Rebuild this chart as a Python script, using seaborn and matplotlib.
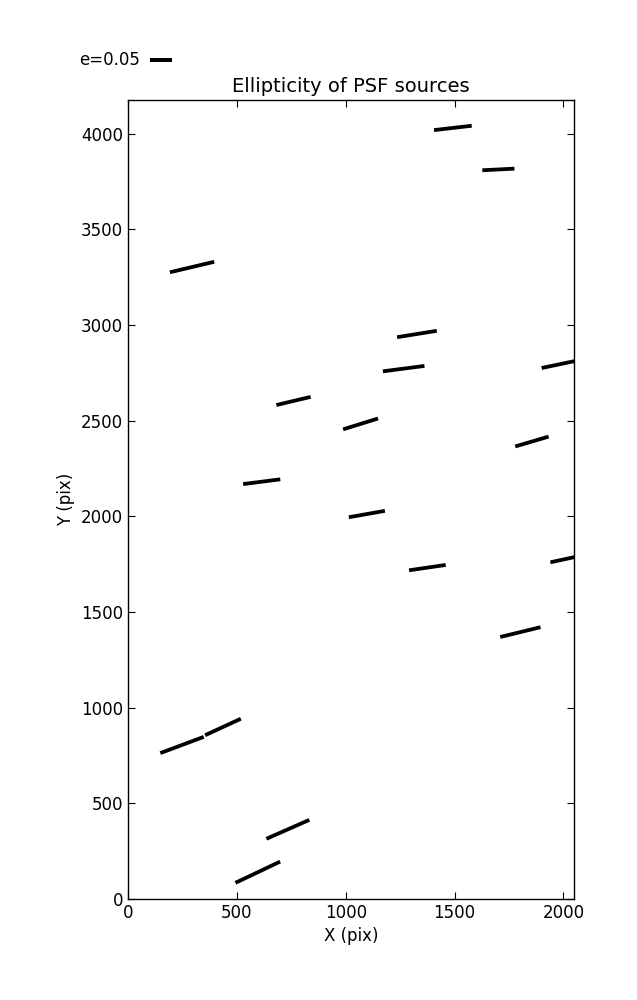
import numpy as np
import matplotlib
matplotlib.use("Agg")
import matplotlib.pyplot as plt
import seaborn as sns

# ---- data: PSF source positions (pix), ellipticity and position angle (deg)
x_pix = [1492, 1701, 294, 1327, 1266, 1991, 1068, 1855, 760, 614, 1097,
         1375, 2022, 1802, 248, 436, 734, 596]
y_pix = [4030, 3813, 3303, 2953, 2772, 2797, 2483, 2391, 2603, 2181, 2012,
         1732, 1780, 1395, 805, 899, 364, 140]
ellip = [0.085, 0.072, 0.102, 0.090, 0.094, 0.091, 0.082, 0.078, 0.079, 0.084,
         0.082, 0.083, 0.082, 0.093, 0.104, 0.088, 0.105, 0.111]
theta_deg = [6.6, 2.9, 13.3, 9.1, 7.4, 11.8, 17.3, 16.4, 13.4, 7.3, 10.0,
             8.3, 12.3, 13.7, 20.5, 24.8, 23.8, 25.4]

key_e = 0.05
key_label = "e=0.05"
title = "Ellipticity of PSF sources"
xlabel = "X (pix)"
ylabel = "Y (pix)"
xticks = [0, 500, 1000, 1500, 2000]
yticks = [0, 500, 1000, 1500, 2000, 2500, 3000, 3500, 4000]

sns.set_style("ticks")
plt.rcParams['font.family'] = ['DejaVu Sans']
plt.rcParams['text.color'] = 'black'
plt.rcParams['axes.labelcolor'] = 'black'

fig = plt.figure(figsize=(6.37, 10.0), dpi=100)
ax = fig.add_axes([0.201, 0.101, 0.700, 0.799])

th = np.deg2rad(theta_deg)
e = np.asarray(ellip)
u = e * np.cos(th)
v = e * np.sin(th)

scale = 0.05 / 0.223  # e per inch
q = ax.quiver(x_pix, y_pix, u, v, pivot='middle', angles='uv',
              scale_units='inches', scale=scale,
              headwidth=0, headlength=0, headaxislength=0,
              width=0.0085, color='black')

ax.quiverkey(q, 0.2355, 0.94, key_e, key_label, labelpos='W',
             coordinates='figure', fontproperties={'size': 12},
             labelcolor='black')

ax.set_xlim(0, 2048)
ax.set_ylim(0, 4176)
ax.set_xticks(xticks)
ax.set_yticks(yticks)
ax.tick_params(direction='in', top=True, right=True, length=5, width=0.8,
               labelsize=12, colors='black')
for s in ax.spines.values():
    s.set_visible(True)
    s.set_color('black')
    s.set_linewidth(1.0)

ax.set_title(title, fontsize=14, color='black')
ax.set_xlabel(xlabel, fontsize=12)
ax.set_ylabel(ylabel, fontsize=12)

fig.savefig("out.png", dpi=100)
